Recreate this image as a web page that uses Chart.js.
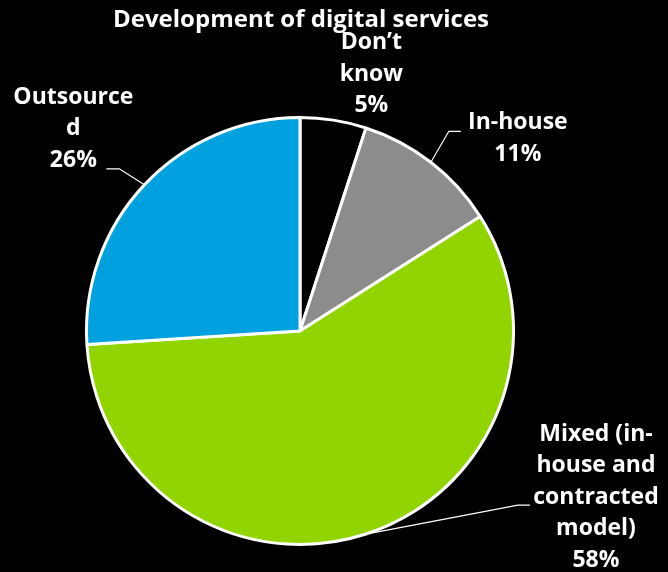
<!DOCTYPE html>
<html>
<head>
<meta charset="utf-8">
<script src="https://cdn.jsdelivr.net/npm/chart.js@4/dist/chart.umd.min.js"></script>
<style>
  html, body { margin: 0; padding: 0; background: #000; }
  #wrap { width: 668px; height: 572px; position: relative; }
</style>
</head>
<body>
<div id="wrap"><canvas id="c"></canvas></div>
<script>
// Share of respondents by how digital services are developed
const chartTitle = 'Development of digital services';
const categories = ["Don\u2019t know", 'In-house', 'Mixed (in-house and contracted model)', 'Outsourced'];
const labelLines = [
  ["Don\u2019t", 'know'],
  ['In-house'],
  ['Mixed (in-', 'house and', 'contracted', 'model)'],
  ['Outsource', 'd']
];
const shares = [5, 11, 58, 26];
const sliceColors = ['#000000', '#8c8c8c', '#92d400', '#00a1de'];

// Where each label block sits, relative to the point on the rim at the slice's mid-angle,
// plus an optional two-segment leader line (elbow, end) in the same relative terms.
const labelPlacement = [
  { dx: 38,  dy: -46, leader: null },
  { dx: 87,  dy: -24, leader: [[18, -31], [30, -31]] },
  { dx: 230, dy: -37, leader: [[152, -29], [164, -29]] },
  { dx: -71, dy: -56, leader: [[-25, -16], [-38, -16]] }
];

const FONT = '"Open Sans", "Noto Sans", sans-serif';
const LABEL_SIZE = 23;
const LINE_H = 31.5;

const labelPlugin = {
  id: 'sliceLabels',
  afterDraw(chart) {
    const ctx = chart.ctx;
    // title
    ctx.save();
    ctx.fillStyle = '#ffffff';
    ctx.font = 'bold 24px ' + FONT;
    ctx.textAlign = 'center';
    ctx.textBaseline = 'middle';
    ctx.fillText(chartTitle, 301, 20);

    const meta = chart.getDatasetMeta(0);
    const total = shares.reduce((a, b) => a + b, 0);
    meta.data.forEach((arc, i) => {
      const p = arc.getProps(['x', 'y', 'startAngle', 'endAngle', 'outerRadius'], true);
      const mid = (p.startAngle + p.endAngle) / 2;
      const ex = p.x + Math.cos(mid) * p.outerRadius;
      const ey = p.y + Math.sin(mid) * p.outerRadius;
      const pl = labelPlacement[i];

      if (pl.leader) {
        ctx.strokeStyle = '#ffffff';
        ctx.lineWidth = 1.2;
        ctx.beginPath();
        ctx.moveTo(ex, ey);
        pl.leader.forEach(([lx, ly]) => ctx.lineTo(ex + lx, ey + ly));
        ctx.stroke();
      }

      const lines = labelLines[i].concat([Math.round(shares[i] / total * 100) + '%']);
      const cx = ex + pl.dx;
      const cy = ey + pl.dy;
      const top = cy - (lines.length - 1) * LINE_H / 2;
      ctx.fillStyle = '#ffffff';
      ctx.font = 'bold ' + LABEL_SIZE + 'px ' + FONT;
      ctx.textAlign = 'center';
      ctx.textBaseline = 'middle';
      lines.forEach((t, k) => ctx.fillText(t, cx, top + k * LINE_H));
    });
    ctx.restore();
  }
};

new Chart(document.getElementById('c'), {
  type: 'pie',
  data: {
    labels: categories,
    datasets: [{
      data: shares,
      backgroundColor: sliceColors,
      borderColor: '#ffffff',
      borderWidth: 3
    }]
  },
  options: {
    responsive: true,
    maintainAspectRatio: false,
    animation: false,
    layout: { padding: { left: 85, right: 153, top: 116, bottom: 26 } },
    plugins: {
      legend: { display: false },
      tooltip: { enabled: false },
      title: { display: false }
    }
  },
  plugins: [labelPlugin]
});
</script>
</body>
</html>
